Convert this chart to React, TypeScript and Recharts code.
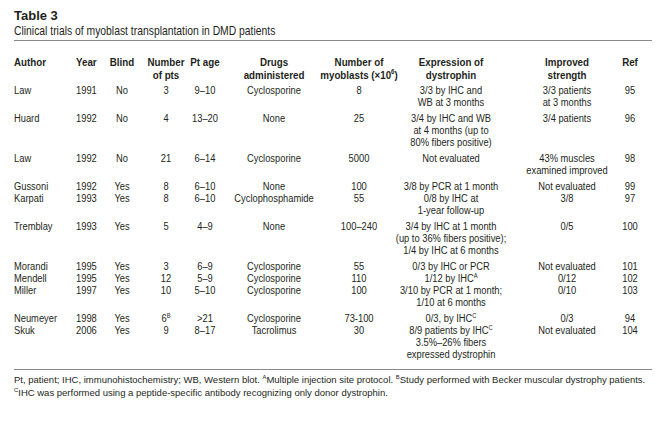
import React from 'react';
import { Surface, Layer } from 'recharts';

const W = 667;
const H = 439;

const titleText = 'Table 3';
const subtitleText = 'Clinical trials of myoblast transplantation in DMD patients';

const headers: string[][] = [
  ['Author'],
  ['Year'],
  ['Blind'],
  ['Number', 'of pts'],
  ['Pt age'],
  ['Drugs', 'administered'],
  ['Number of', 'myoblasts (\u00d710^6)'],
  ['Expression of', 'dystrophin'],
  ['Improved', 'strength'],
  ['Ref'],
];

const authors = ['Law', 'Huard', 'Law', 'Gussoni', 'Karpati', 'Tremblay', 'Morandi', 'Mendell', 'Miller', 'Neumeyer', 'Skuk'];
const years = ['1991', '1992', '1992', '1992', '1993', '1993', '1995', '1995', '1997', '1998', '2006'];
const blind = ['No', 'No', 'No', 'Yes', 'Yes', 'Yes', 'Yes', 'Yes', 'Yes', 'Yes', 'Yes'];
const numPts = ['3', '4', '21', '8', '8', '5', '3', '12', '10', '6^B', '9'];
const ptAge = ['9\u201310', '13\u201320', '6\u201314', '6\u201310', '6\u201310', '4\u20139', '6\u20139', '5\u20139', '5\u201310', '>21', '8\u201317'];
const drugs = ['Cyclosporine', 'None', 'Cyclosporine', 'None', 'Cyclophosphamide', 'None', 'Cyclosporine', 'Cyclosporine', 'Cyclosporine', 'Cyclosporine', 'Tacrolimus'];
const myoblasts = ['8', '25', '5000', '100', '55', '100\u2013240', '55', '110', '100', '73-100', '30'];
const expression: string[][] = [
  ['3/3 by IHC and', 'WB at 3 months'],
  ['3/4 by IHC and WB', 'at 4 months (up to', '80% fibers positive)'],
  ['Not evaluated'],
  ['3/8 by PCR at 1 month'],
  ['0/8 by IHC at', '1-year follow-up'],
  ['3/4 by IHC at 1 month', '(up to 36% fibers positive);', '1/4 by IHC at 6 months'],
  ['0/3 by IHC or PCR'],
  ['1/12 by IHC^A'],
  ['3/10 by PCR at 1 month;', '1/10 at 6 months'],
  ['0/3, by IHC^C'],
  ['8/9 patients by IHC^C', '3.5%\u201326% fibers', 'expressed dystrophin'],
];
const strength: string[][] = [
  ['3/3 patients', 'at 3 months'],
  ['3/4 patients'],
  ['43% muscles', 'examined improved'],
  ['Not evaluated'],
  ['3/8'],
  ['0/5'],
  ['Not evaluated'],
  ['0/12'],
  ['0/10'],
  ['0/3'],
  ['Not evaluated'],
];
const refs = ['95', '96', '98', '99', '97', '100', '101', '102', '103', '94', '104'];

const footnotes = [
  'Pt, patient; IHC, immunohistochemistry; WB, Western blot. ^AMultiple injection site protocol. ^BStudy performed with Becker muscular dystrophy patients.',
  '^CIHC was performed using a peptide-specific antibody recognizing only donor dystrophin.',
];

// layout (styles & positions)
const columns: { x: number; anchor: 'start' | 'middle' | 'end' }[] = [
  { x: 14, anchor: 'start' },
  { x: 76, anchor: 'start' },
  { x: 122, anchor: 'middle' },
  { x: 166, anchor: 'middle' },
  { x: 205, anchor: 'middle' },
  { x: 274, anchor: 'middle' },
  { x: 359, anchor: 'middle' },
  { x: 451, anchor: 'middle' },
  { x: 567, anchor: 'middle' },
  { x: 630, anchor: 'middle' },
];

const SANS = "'Liberation Sans', Arial, Helvetica, sans-serif";
const INK = '#231f20';
const RULE = '#8a8a8a';
const LH = 12;
const GAP = 4;
const FIRST_BASE = 94;
const HEADER_BASE = 65.5;
const HEADER_LH = 13;
const BODY_FS = 11;
const BODY_SX = 0.85;
const HEAD_FS = 11.5;
const HEAD_SX = 0.85;
const RULE_X1 = 14;
const RULE_X2 = 652;
const TOP_RULE_Y = 40.5;
const BOTTOM_RULE_Y = 369.5;
const FOOT_BASE = 383;
const FOOT_LH = 13;
const FOOT_FS = 9.5;

function Rich({ s, fs }: { s: string; fs: number }) {
  const parts = s.split(/(\^[A-Z0-9])/).filter((p) => p.length > 0);
  return (
    <>
      {parts.map((p, i) =>
        p.startsWith('^') ? (
          <tspan key={i} fontSize={fs * 0.62} dy={-fs * 0.38}>
            {p.slice(1)}
          </tspan>
        ) : (
          <tspan key={i} dy={i > 0 && parts[i - 1].startsWith('^') ? fs * 0.38 : 0}>
            {p}
          </tspan>
        ),
      )}
    </>
  );
}

function NText({ x, y, s, anchor, fs, sx, bold }: { x: number; y: number; s: string; anchor: string; fs: number; sx: number; bold?: boolean }) {
  return (
    <text
      x={0}
      y={0}
      transform={`translate(${x} ${y}) scale(${sx} 1)`}
      textAnchor={anchor as any}
      fontSize={fs}
      fontWeight={bold ? 'bold' : 'normal'}
      fontFamily={SANS}
      fill={INK}
    >
      <Rich s={s} fs={fs} />
    </text>
  );
}

function Cell({ x, y, lines, anchor, fs, sx, bold, lh }: { x: number; y: number; lines: string[]; anchor: string; fs: number; sx: number; bold?: boolean; lh: number }) {
  return (
    <>
      {lines.map((l, i) => (
        <NText key={i} x={x} y={y + i * lh} s={l} anchor={anchor} fs={fs} sx={sx} bold={bold} />
      ))}
    </>
  );
}

export default function App() {
  const rows = authors.map((a, i) => [
    [a],
    [years[i]],
    [blind[i]],
    [numPts[i]],
    [ptAge[i]],
    [drugs[i]],
    [myoblasts[i]],
    expression[i],
    strength[i],
    [refs[i]],
  ]);
  const rowY: number[] = [];
  let y = FIRST_BASE;
  rows.forEach((r) => {
    rowY.push(y);
    const n = Math.max(...r.map((c) => c.length));
    y += n * LH + (n > 1 ? GAP : 0);
  });

  return (
    <div style={{ width: W, height: H, margin: -8, background: '#fff' }}>
      <Surface width={W} height={H}>
        <rect x={0} y={0} width={W} height={H} fill="#fff" />
        <Layer>
          <text x={14} y={20} fontSize={13} fontWeight="bold" fontFamily={SANS} fill={INK}>
            {titleText}
          </text>
          <NText x={14} y={34.5} s={subtitleText} anchor="start" fs={12.5} sx={0.83} />
          <line x1={RULE_X1} x2={RULE_X2} y1={TOP_RULE_Y} y2={TOP_RULE_Y} stroke={RULE} strokeWidth={1} />
        </Layer>
        <Layer>
          {headers.map((h, c) => (
            <Cell key={c} x={columns[c].x} y={HEADER_BASE} lines={h} anchor={columns[c].anchor} fs={HEAD_FS} sx={HEAD_SX} bold lh={HEADER_LH} />
          ))}
        </Layer>
        <Layer>
          {rows.map((r, ri) =>
            r.map((cell, c) => (
              <Cell key={ri + '-' + c} x={columns[c].x} y={rowY[ri]} lines={cell} anchor={columns[c].anchor} fs={BODY_FS} sx={BODY_SX} lh={LH} />
            )),
          )}
        </Layer>
        <Layer>
          <line x1={RULE_X1} x2={RULE_X2} y1={BOTTOM_RULE_Y} y2={BOTTOM_RULE_Y} stroke={RULE} strokeWidth={1} />
          {footnotes.map((f, i) => (
            <text key={i} x={14} y={FOOT_BASE + i * FOOT_LH} fontSize={FOOT_FS} fontFamily={SANS} fill={INK}>
              <Rich s={f} fs={FOOT_FS} />
            </text>
          ))}
        </Layer>
      </Surface>
    </div>
  );
}
